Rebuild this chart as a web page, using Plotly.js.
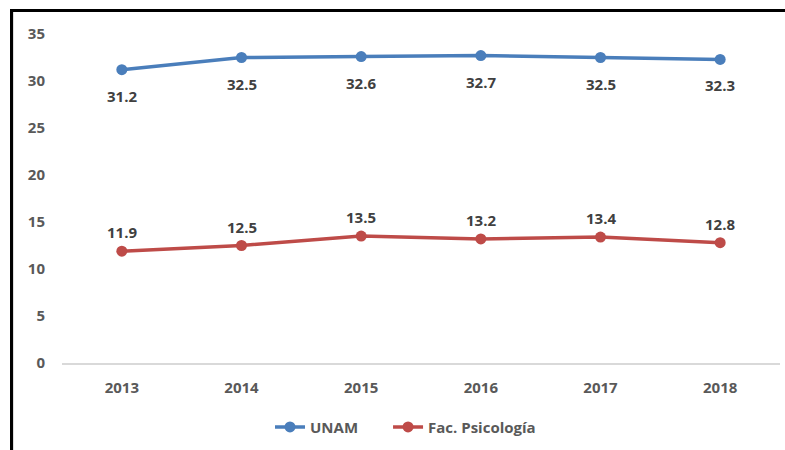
<!DOCTYPE html>
<html>
<head>
<meta charset="utf-8">
<script src="https://cdn.plot.ly/plotly-3.0.1.min.js"></script>
<style>
html,body{margin:0;padding:0;background:#fff;}
#wrap{position:relative;width:785px;height:450px;}
#chart{width:785px;height:450px;}
.bl{position:absolute;left:10px;top:9px;width:3px;height:441px;background:#000;}
.bl2{position:absolute;left:13px;top:12px;width:1px;height:438px;background:#ddd;}
.bt{position:absolute;left:10px;top:9px;width:775px;height:3px;background:#000;}
</style>
</head>
<body>
<div id="wrap">
<div id="chart"></div>
<div class="bl"></div><div class="bl2"></div><div class="bt"></div>
</div>
<script>
const years = ['2013','2014','2015','2016','2017','2018'];
const unam = [31.2, 32.5, 32.6, 32.7, 32.5, 32.3];
const psico = [11.9, 12.5, 13.5, 13.2, 13.4, 12.8];
const yTicks = [0,5,10,15,20,25,30,35];

const FONT = '"Open Sans", "Noto Sans", sans-serif';
const lblFont = {family: FONT, size: 15, color: '#404040', weight: 'bold'};
const axFont = {family: FONT, size: 15, color: '#595959', weight: 'bold'};
const legFont = {family: FONT, size: 15, color: '#595959', weight: 'bold'};

const traces = [
  {x: years, y: unam, name: 'UNAM', type: 'scatter', mode: 'lines+markers',
   line: {color: '#4A7EBB', width: 3.5}, marker: {color: '#4A7EBB', size: 11},
   legend: 'legend'},
  {x: years, y: psico, name: 'Fac. Psicología', type: 'scatter', mode: 'lines+markers',
   line: {color: '#BE4B48', width: 3.5}, marker: {color: '#BE4B48', size: 11},
   legend: 'legend2'}
];

const annotations = [];
years.forEach((yr, i) => {
  annotations.push({x: i, y: unam[i], xref: 'x', yref: 'y', text: unam[i].toFixed(1),
    showarrow: false, yshift: -26, font: lblFont});
  annotations.push({x: i, y: psico[i], xref: 'x', yref: 'y', text: psico[i].toFixed(1),
    showarrow: false, yshift: 19, font: lblFont});
});

const layout = {
  width: 785, height: 450,
  margin: {l: 62, r: 5, t: 34, b: 87},
  paper_bgcolor: '#fff', plot_bgcolor: '#fff',
  showlegend: true,
  annotations: annotations,
  legend: {orientation: 'h', x: 0.2897, xanchor: 'left', y: -0.195, yanchor: 'middle',
           font: legFont, bgcolor: 'rgba(0,0,0,0)'},
  legend2: {orientation: 'h', x: 0.4541, xanchor: 'left', y: -0.195, yanchor: 'middle',
           font: legFont, bgcolor: 'rgba(0,0,0,0)'},
  xaxis: {type: 'category', range: [-0.5, 5.5], showgrid: false, zeroline: false,
          showline: true, linecolor: '#d9d9d9', linewidth: 2, ticks: '',
          ticklabelstandoff: 10, tickfont: axFont},
  yaxis: {range: [0, 35], tickvals: yTicks, showgrid: false, zeroline: false,
          showline: false, ticks: '', ticklabelstandoff: 16, tickfont: axFont}
};

Plotly.newPlot('chart', traces, layout, {displayModeBar: false, staticPlot: true});
</script>
</body>
</html>
